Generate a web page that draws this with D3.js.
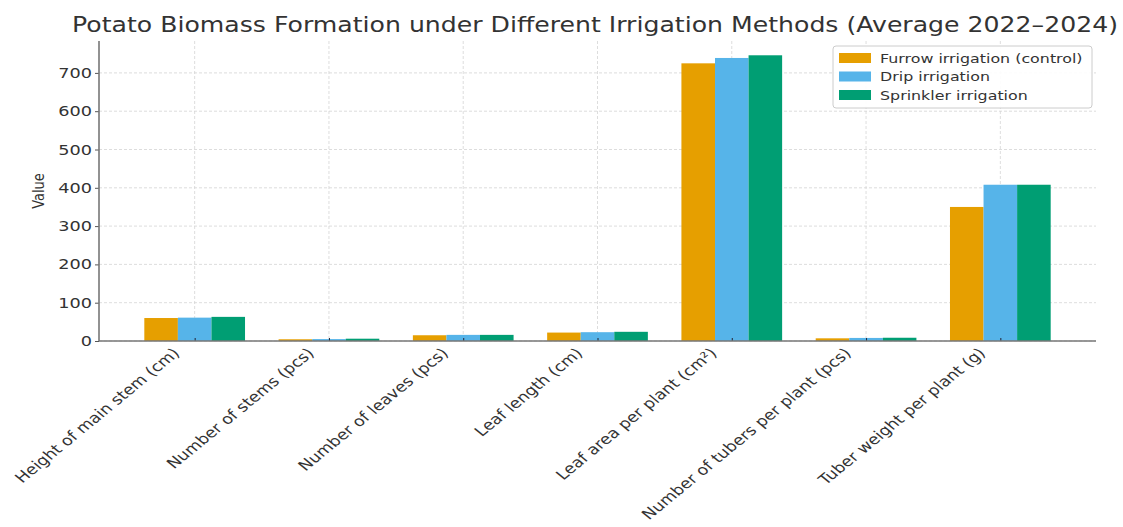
<!DOCTYPE html>
<html>
<head>
<meta charset="utf-8">
<script src="https://cdn.jsdelivr.net/npm/d3@7"></script>
<style>
  html, body { margin: 0; padding: 0; background: #fff; }
  svg { display: block; font-family: "DejaVu Sans", sans-serif; }
</style>
</head>
<body>
<div id="chart"></div>
<script>
// 马铃薯生物量 · 三种灌溉方式分组柱图（2022–2024 平均）
const CATEGORIES = [
  "Height of main stem (cm)",
  "Number of stems (pcs)",
  "Number of leaves (pcs)",
  "Leaf length (cm)",
  "Leaf area per plant (cm²)",
  "Number of tubers per plant (pcs)",
  "Tuber weight per plant (g)",
];
const SERIES = ["Furrow irrigation (control)", "Drip irrigation", "Sprinkler irrigation"];
const FURROW = [60, 4.5, 15, 22, 725, 7, 350];
const DRIP = [61, 5, 16, 23, 739, 8, 408];
const SPRINKLER = [63, 6, 16, 24, 746, 8.5, 408];
const Y_TICKS = [0, 100, 200, 300, 400, 500, 600, 700];
const COLORS = ["#E69F00", "#56B4E9", "#009E73"];

const VALUES = [FURROW, DRIP, SPRINKLER];
const W = 1123, H = 527;
const ML = 99, MR = 1096, MT = 41, MB = 341;
const SX = 1.22; // 原图文字横向拉伸

const svg = d3.select("#chart").append("svg").attr("width", W).attr("height", H);

// x：类别中心为整数位，组宽 0.75，左右 5% 边距
const x = d3.scaleLinear().domain([-0.7125, CATEGORIES.length - 1 + 0.7125]).range([ML, MR]);
const yMax = d3.max(VALUES.flat()) * 1.05;
const y = d3.scaleLinear().domain([0, yMax]).range([MB, MT]);
const BW = 0.25;

// 网格
const grid = svg.append("g");
Y_TICKS.forEach(v => {
  grid.append("line").attr("x1", ML).attr("x2", MR).attr("y1", y(v)).attr("y2", y(v))
    .attr("stroke", "#d4d4d4").attr("stroke-width", 0.8).attr("stroke-dasharray", "3,2");
});
CATEGORIES.forEach((c, i) => {
  grid.append("line").attr("x1", x(i)).attr("x2", x(i)).attr("y1", MT).attr("y2", MB)
    .attr("stroke", "#d4d4d4").attr("stroke-width", 0.8).attr("stroke-dasharray", "3,2");
});

// 柱
SERIES.forEach((s, si) => {
  svg.append("g").selectAll("rect").data(VALUES[si]).join("rect")
    .attr("x", (d, i) => x(i + (si - 1) * BW - BW / 2))
    .attr("width", x(BW) - x(0))
    .attr("y", d => y(d))
    .attr("height", d => y(0) - y(d))
    .attr("fill", COLORS[si]);
});

// 坐标轴
const yAxis = svg.append("g").attr("transform", `translate(${ML},0)`)
  .call(d3.axisLeft(y).tickValues(Y_TICKS).tickSize(4).tickFormat(""));
yAxis.select(".domain").remove();
yAxis.selectAll("line").attr("stroke", "#555");
Y_TICKS.forEach(v => {
  svg.append("text").attr("transform", `translate(${ML - 7},${y(v) + 5}) scale(${SX},1)`)
    .attr("text-anchor", "end").attr("font-size", 14.5).attr("fill", "#333").text(v);
});

const xAxis = svg.append("g").attr("transform", `translate(0,${MB})`)
  .call(d3.axisBottom(x).tickValues(d3.range(CATEGORIES.length)).tickSize(-3).tickFormat(""));
xAxis.select(".domain").remove();
xAxis.selectAll("line").attr("stroke", "#223");

svg.append("line").attr("x1", ML).attr("x2", ML).attr("y1", MT).attr("y2", MB)
  .attr("stroke", "#777").attr("stroke-width", 1.6);
svg.append("line").attr("x1", ML).attr("x2", MR).attr("y1", MB).attr("y2", MB)
  .attr("stroke", "#777").attr("stroke-width", 1.6);

// x 标签（45°，再横向拉伸）
CATEGORIES.forEach((c, i) => {
  svg.append("text")
    .attr("transform", `translate(${x(i) - 14},${MB + 13}) scale(${SX},1) rotate(-45)`)
    .attr("text-anchor", "end")
    .attr("font-size", 14.3).attr("fill", "#333")
    .text(c);
});

// y 轴标题
svg.append("text").attr("transform", `translate(44,${(MT + MB) / 2}) scale(${SX},1) rotate(-90)`)
  .attr("text-anchor", "middle").attr("font-size", 13).attr("fill", "#333").text("Value");

// 标题
svg.append("text").attr("x", (72 + 1118) / 2).attr("y", 32)
  .attr("text-anchor", "middle").attr("font-size", 20.5).attr("fill", "#333")
  .attr("textLength", 1046).attr("lengthAdjust", "spacingAndGlyphs")
  .text("Potato Biomass Formation under Different Irrigation Methods (Average 2022–2024)");

// 图例
const lg = svg.append("g").attr("transform", "translate(833,46)");
lg.append("rect").attr("width", 259).attr("height", 62).attr("rx", 3)
  .attr("fill", "#fff").attr("fill-opacity", 0.9).attr("stroke", "#ccc");
SERIES.forEach((s, i) => {
  lg.append("rect").attr("x", 6).attr("y", 7 + i * 18.5).attr("width", 32).attr("height", 10)
    .attr("fill", COLORS[i]);
  lg.append("text").attr("transform", `translate(47,${16.5 + i * 18.5}) scale(${SX},1)`)
    .attr("font-size", 13).attr("fill", "#333").text(s);
});
</script>
</body>
</html>
